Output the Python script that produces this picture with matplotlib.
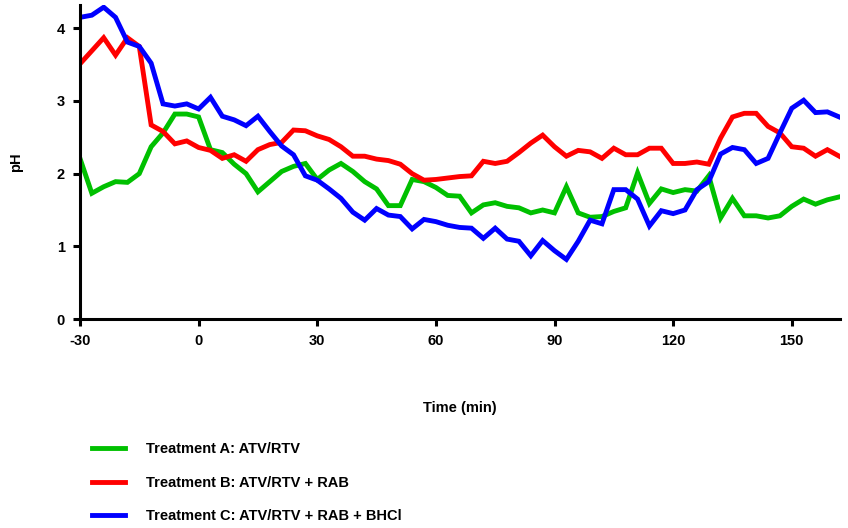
import numpy as np
import matplotlib
matplotlib.use('Agg')
import matplotlib.pyplot as plt

plt.rcParams['font.family'] = ['Liberation Sans', 'DejaVu Sans']
plt.rcParams['font.weight'] = 'bold'
plt.rcParams['axes.unicode_minus'] = False

# time points (min)
tiempo = [-30, -27, -24, -21, -18, -15, -12, -9, -6, -3, 0,
          3, 6, 9, 12, 15, 18, 21, 24, 27, 30, 33, 36, 39, 42, 45, 48, 51, 54, 57, 60,
          63, 66, 69, 72, 75, 78, 81, 84, 87, 90, 93, 96, 99, 102, 105, 108, 111, 114, 117, 120,
          123, 126, 129, 132, 135, 138, 141, 144, 147, 150, 153, 156, 159, 162]

ph_a = [2.21, 1.73, 1.82, 1.89, 1.88, 2.00, 2.37, 2.56, 2.82, 2.82, 2.78,
        2.33, 2.29, 2.13, 2.00, 1.75, 1.89, 2.03, 2.10, 2.14, 1.92, 2.05, 2.14, 2.03, 1.89, 1.79, 1.56, 1.56, 1.92, 1.89, 1.81,
        1.70, 1.69, 1.46, 1.57, 1.60, 1.55, 1.53, 1.46, 1.50, 1.46, 1.82, 1.46, 1.40, 1.41, 1.48, 1.53, 2.01, 1.59, 1.79, 1.74,
        1.78, 1.76, 1.97, 1.39, 1.66, 1.42, 1.42, 1.39, 1.42, 1.55, 1.65, 1.58, 1.64, 1.68]

ph_b = [3.51, 3.69, 3.87, 3.63, 3.87, 3.75, 2.67, 2.58, 2.41, 2.45, 2.36,
        2.32, 2.21, 2.26, 2.17, 2.33, 2.40, 2.43, 2.60, 2.59, 2.52, 2.47, 2.37, 2.24, 2.24, 2.20, 2.18, 2.13, 2.00, 1.91, 1.92,
        1.94, 1.96, 1.97, 2.17, 2.14, 2.17, 2.29, 2.42, 2.53, 2.37, 2.24, 2.32, 2.30, 2.21, 2.35, 2.26, 2.26, 2.35, 2.35, 2.14,
        2.14, 2.16, 2.13, 2.49, 2.78, 2.83, 2.83, 2.65, 2.56, 2.37, 2.35, 2.24, 2.33, 2.24]

ph_c = [4.15, 4.18, 4.29, 4.15, 3.81, 3.75, 3.52, 2.96, 2.93, 2.96, 2.89,
        3.05, 2.79, 2.74, 2.66, 2.79, 2.58, 2.38, 2.26, 1.97, 1.91, 1.79, 1.66, 1.47, 1.36, 1.52, 1.43, 1.41, 1.24, 1.37, 1.34,
        1.29, 1.26, 1.25, 1.11, 1.25, 1.10, 1.07, 0.87, 1.08, 0.94, 0.82, 1.07, 1.36, 1.31, 1.78, 1.78, 1.65, 1.28, 1.49, 1.45,
        1.50, 1.78, 1.89, 2.27, 2.36, 2.33, 2.14, 2.21, 2.56, 2.90, 3.01, 2.84, 2.85, 2.78]

etiquetas = ['Treatment A: ATV/RTV',
             'Treatment B: ATV/RTV + RAB',
             'Treatment C: ATV/RTV + RAB + BHCl']
colores = ['#00c000', '#ff0000', '#0000ff']

fig = plt.figure(figsize=(8.48, 5.28), dpi=100)
ax = fig.add_axes([0.0943, 0.3958, 0.8963, 0.5947])

for serie, lab, col in zip([ph_a, ph_b, ph_c], etiquetas, colores):
    ax.plot(tiempo, serie, '-', color=col, lw=3.5, label=lab, solid_joinstyle='miter')

ax.set_xlim(-30, 162.2)
ax.set_ylim(0, 4.32)
ax.set_xticks([-30, 0, 30, 60, 90, 120, 150])
ax.set_yticks([0, 1, 2, 3, 4])
for s in ['top', 'right']:
    ax.spines[s].set_visible(False)
for s in ['left', 'bottom']:
    ax.spines[s].set_linewidth(2.2)
ax.tick_params(direction='out', length=5, width=2.2, labelsize=10.5, pad=6)
for t in ax.get_xticklabels() + ax.get_yticklabels():
    t.set_fontweight('bold')

ax.set_ylabel('pH', fontsize=10.5, fontweight='bold', labelpad=24)
fig.text(0.542, 0.227, 'Time (min)', ha='center', va='center', fontsize=10.5, fontweight='bold')

fig.legend(loc='upper left', bbox_to_anchor=(0.108, 0.163), frameon=False,
           borderpad=0, borderaxespad=0, handlelength=2.3, handletextpad=1.4,
           labelspacing=1.35, prop={'size': 10.5, 'weight': 'bold'})

plt.savefig('out.png', dpi=100)
